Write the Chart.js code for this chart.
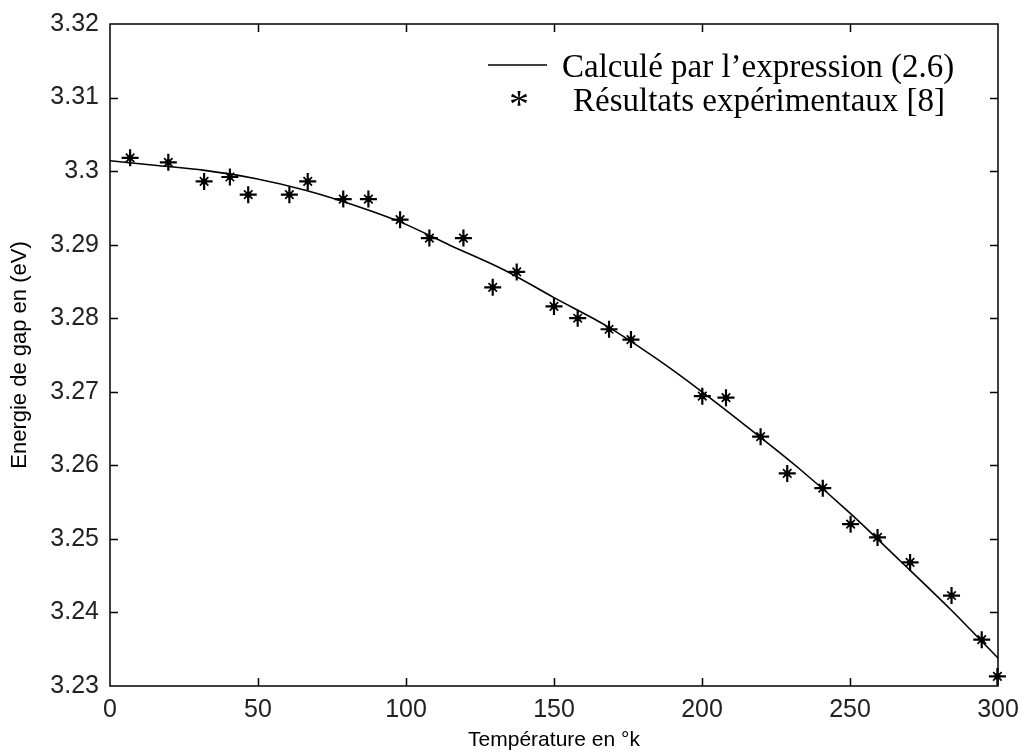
<!DOCTYPE html>
<html>
<head>
<meta charset="utf-8">
<title>Energie de gap</title>
<script src="https://cdn.jsdelivr.net/npm/chart.js@4.4.1/dist/chart.umd.min.js"></script>
<style>
    body { margin: 0; background: #fff; }
    #wrap { width: 1022px; height: 756px; }
</style>
</head>
<body>
<div id="wrap"><canvas id="gapChart" width="1022" height="756"></canvas></div>
<script>
// Calculated curve (expression 2.6)
const curveTemp = [0, 15, 32, 49, 66, 83, 98, 115, 133, 150, 168, 185, 200, 216, 233, 250, 267, 284, 300];
const curveGap = [3.3014, 3.3008, 3.3001, 3.2990, 3.2974, 3.2953, 3.2931, 3.2899, 3.2866, 3.2828, 3.2789, 3.2744, 3.2700, 3.2650, 3.2595, 3.2535, 3.2470, 3.2404, 3.2338];

// Experimental results [8]
const expTemp = [6.8, 19.7, 31.8, 40.5, 46.7, 60.6, 66.8, 78.8, 87.3, 98.0, 107.9, 119.4, 129.3, 137.4, 150.0, 158.0, 168.6, 176.0, 200.1, 208.1, 219.8, 228.8, 240.8, 250.2, 259.3, 270.3, 284.3, 294.5, 299.8];
const expGap = [3.3018, 3.3012, 3.2986, 3.2992, 3.2968, 3.2968, 3.2986, 3.2962, 3.2962, 3.2934, 3.2909, 3.2909, 3.2842, 3.2863, 3.2816, 3.2800, 3.2785, 3.2771, 3.2694, 3.2692, 3.2639, 3.2589, 3.2569, 3.2520, 3.2502, 3.2468, 3.2423, 3.2363, 3.2313];

// Axis ticks
const xTicks = [0, 50, 100, 150, 200, 250, 300];
const yTicks = [3.23, 3.24, 3.25, 3.26, 3.27, 3.28, 3.29, 3.3, 3.31, 3.32];

const legendLabels = ['Calculé par l’expression (2.6)', 'Résultats expérimentaux [8]'];

const toPoints = (xs, ys) => xs.map((x, i) => ({ x: x, y: ys[i] }));

// Box around the plot with inward tick marks on all four sides
const frameTicks = {
    id: 'frameTicks',
    afterDatasetsDraw(chart) {
        const { ctx, chartArea: a, scales } = chart;
        const len = 8;
        ctx.save();
        ctx.strokeStyle = '#000';
        ctx.lineWidth = 1.5;
        ctx.strokeRect(a.left, a.top, a.right - a.left, a.bottom - a.top);
        ctx.beginPath();
        xTicks.slice(1, -1).forEach(v => {
            const px = Math.round(scales.x.getPixelForValue(v)) + 0.5;
            ctx.moveTo(px, a.bottom); ctx.lineTo(px, a.bottom - len);
            ctx.moveTo(px, a.top); ctx.lineTo(px, a.top + len);
        });
        yTicks.slice(1, -1).forEach(v => {
            const py = Math.round(scales.y.getPixelForValue(v)) + 0.5;
            ctx.moveTo(a.left, py); ctx.lineTo(a.left + len, py);
            ctx.moveTo(a.right, py); ctx.lineTo(a.right - len, py);
        });
        ctx.stroke();
        ctx.restore();
    }
};

// Legend drawn inside the upper right corner of the plot
const insideLegend = {
    id: 'insideLegend',
    afterDraw(chart) {
        const { ctx } = chart;
        const serif = '"Liberation Serif", "Times New Roman", serif';
        ctx.save();
        ctx.fillStyle = '#000';
        ctx.strokeStyle = '#000';
        ctx.font = '33px ' + serif;
        ctx.textBaseline = 'alphabetic';
        ctx.lineWidth = 1.5;
        ctx.beginPath();
        ctx.moveTo(488, 65);
        ctx.lineTo(547, 65);
        ctx.stroke();
        ctx.fillText(legendLabels[0], 562, 77);
        ctx.fillText(legendLabels[1], 573, 111);
        ctx.font = '40px ' + serif;
        ctx.textAlign = 'center';
        ctx.fillText('*', 519, 117);
        ctx.restore();
    }
};

const tickFont = { family: '"Liberation Sans", Arial, sans-serif', size: 25 };
const titleFont = { family: '"Liberation Sans", Arial, sans-serif', size: 21 };

new Chart(document.getElementById('gapChart'), {
    type: 'scatter',
    data: {
        datasets: [
            {
                label: legendLabels[0],
                data: toPoints(curveTemp, curveGap),
                showLine: true,
                borderColor: '#000',
                borderWidth: 1.6,
                pointRadius: 0,
                cubicInterpolationMode: 'monotone',
                clip: false
            },
            {
                label: legendLabels[1],
                data: toPoints(expTemp, expGap),
                pointStyle: 'cross',
                pointRadius: 8.5,
                borderColor: '#000',
                borderWidth: 2.2,
                clip: false
            },
            {
                label: '',
                data: toPoints(expTemp, expGap),
                pointStyle: 'crossRot',
                pointRadius: 6,
                borderColor: '#000',
                borderWidth: 1.7,
                clip: false
            },
            {
                label: '',
                data: toPoints(expTemp, expGap),
                pointStyle: 'circle',
                pointRadius: 3,
                backgroundColor: '#000',
                borderWidth: 0,
                clip: false
            }
        ]
    },
    options: {
        responsive: false,
        animation: false,
        layout: { padding: { top: 24, right: 24, left: 0, bottom: 0 } },
        plugins: {
            legend: { display: false },
            tooltip: { enabled: false }
        },
        scales: {
            x: {
                type: 'linear',
                min: 0,
                max: 300,
                afterBuildTicks: scale => { scale.ticks = xTicks.map(v => ({ value: v })); },
                afterFit: scale => {
                    scale.height = 70;
                    scale.paddingLeft = 0;
                    scale.paddingRight = 0;
                },
                grid: { display: false, drawTicks: false },
                border: { display: false },
                ticks: { color: '#222', font: tickFont, padding: 9, maxRotation: 0 },
                title: {
                    display: true,
                    text: 'Température en °k',
                    color: '#000',
                    font: titleFont,
                    padding: { top: 0, bottom: 3 }
                }
            },
            y: {
                type: 'linear',
                min: 3.23,
                max: 3.32,
                afterBuildTicks: scale => { scale.ticks = yTicks.map(v => ({ value: v })); },
                afterFit: scale => {
                    scale.width = 110;
                    scale.paddingTop = 0;
                    scale.paddingBottom = 0;
                },
                grid: { display: false, drawTicks: false },
                border: { display: false },
                ticks: {
                    color: '#222',
                    font: tickFont,
                    padding: 11,
                    callback: v => String(Number(v.toFixed(2)))
                },
                title: {
                    display: true,
                    text: 'Energie de gap en (eV)',
                    color: '#000',
                    font: { family: titleFont.family, size: 22 },
                    padding: { top: 7, bottom: 0 }
                }
            }
        }
    },
    plugins: [frameTicks, insideLegend]
});
</script>
</body>
</html>
